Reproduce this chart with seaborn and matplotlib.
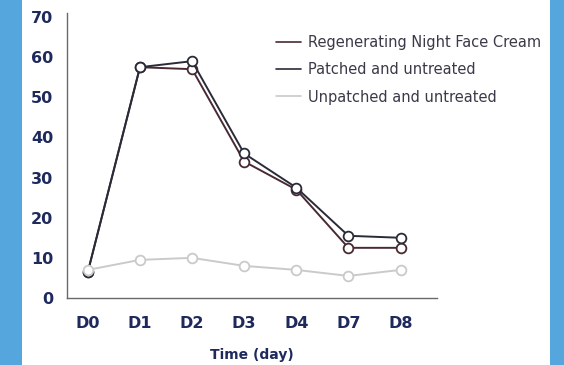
import matplotlib
matplotlib.use("Agg")
import matplotlib.pyplot as plt
import matplotlib.patches as mpatches
import seaborn as sns
import pandas as pd

# data
days = ["D0", "D1", "D2", "D3", "D4", "D7", "D8"]
regenerating = [6.5, 57.5, 57.0, 34.0, 27.0, 12.5, 12.5]
patched = [6.5, 57.5, 59.0, 36.0, 27.5, 15.5, 15.0]
unpatched = [7.0, 9.5, 10.0, 8.0, 7.0, 5.5, 7.0]
series_names = ["Regenerating Night Face Cream", "Patched and untreated", "Unpatched and untreated"]
series_colors = ["#4a2a32", "#2a2b38", "#cacaca"]

rows = []
for name, vals in zip(series_names, [regenerating, patched, unpatched]):
    for d, v in zip(days, vals):
        rows.append({"day": d, "value": v, "series": name})
df = pd.DataFrame(rows)

sns.set_style("white")
plt.rcParams['font.family'] = ['DejaVu Sans']

fig = plt.figure(figsize=(5.64, 3.65), dpi=100)
fig.patch.set_facecolor("#55a6dc")
fig.patches.append(mpatches.Rectangle((22 / 564, 0), (550 - 22) / 564, 1,
                                      transform=fig.transFigure, facecolor="white",
                                      edgecolor="none", zorder=-10))

ax = fig.add_axes([67 / 564, 1 - 298 / 365, (437 - 67) / 564, (298 - 13) / 365])
ax.set_facecolor("none")

sns.lineplot(data=df, x="day", y="value", hue="series", hue_order=series_names,
             palette=dict(zip(series_names, series_colors)), sort=False,
             marker="o", markersize=7, markerfacecolor="white", markeredgewidth=1.3,
             linewidth=1.4, ax=ax, legend=False)
# marker edge colours follow line colours
for line, c in zip(ax.get_lines(), series_colors):
    line.set_markeredgecolor(c)

ax.set_ylim(0, 71)
ax.set_xlim(-0.4, 6.7)
ax.set_yticks([0, 10, 20, 30, 40, 50, 60, 70])
ax.set_xlabel("Time (day)", fontsize=10, fontweight="bold", color="#1f2a5c", labelpad=12)
ax.set_ylabel("")
for s in ["top", "right"]:
    ax.spines[s].set_visible(False)
for s in ["left", "bottom"]:
    ax.spines[s].set_color("#6a6a6a")
    ax.spines[s].set_linewidth(1.0)
ax.tick_params(axis="both", direction="out", length=5, width=1, color="#6a6a6a",
               labelsize=11.5, labelcolor="#1f2a5c", pad=5)
ax.tick_params(axis="x", pad=8)
for lbl in ax.get_xticklabels() + ax.get_yticklabels():
    lbl.set_fontweight("bold")

handles = [plt.Line2D([], [], color=c, linewidth=1.2) for c in series_colors]
ax.legend(handles, series_names, loc="upper left", bbox_to_anchor=(0.549, 0.944),
          frameon=False, fontsize=10.5, labelcolor="#3a3a48", handlelength=1.7,
          handletextpad=0.5, labelspacing=0.85, borderaxespad=0)

fig.savefig("out.png", dpi=100)
